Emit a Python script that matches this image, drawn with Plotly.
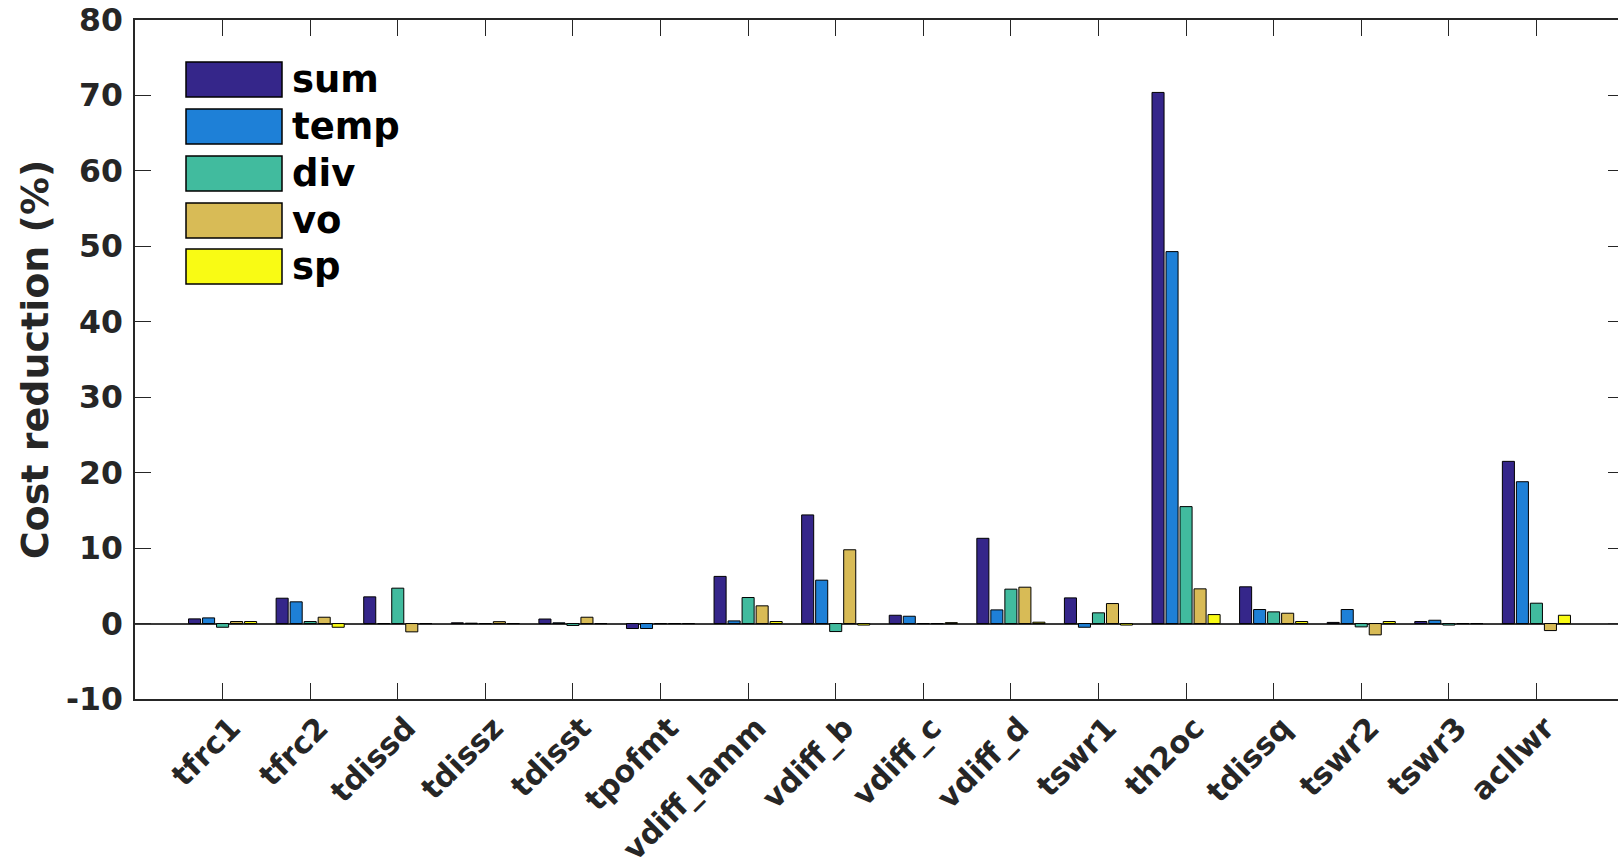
import plotly.graph_objects as go

categories = ["tfrc1", "tfrc2", "tdissd", "tdissz", "tdisst", "tpofmt", "vdiff_lamm",
              "vdiff_b", "vdiff_c", "vdiff_d", "tswr1", "th2oc", "tdissq", "tswr2",
              "tswr3", "acllwr"]
sum_vals = [0.62, 3.36, 3.54, 0.10, 0.60, -0.66, 6.25, 14.4, 1.10, 11.3, 3.40, 70.4, 4.87, 0.15, 0.27, 21.5]
temp_vals = [0.75, 2.88, 0.0, 0.05, 0.10, -0.66, 0.35, 5.75, 0.97, 1.81, -0.49, 49.3, 1.86, 1.86, 0.44, 18.8]
div_vals = [-0.49, 0.27, 4.69, 0.0, -0.25, 0.0, 3.45, -1.06, 0.0, 4.56, 1.42, 15.5, 1.55, -0.44, -0.20, 2.70]
vo_vals = [0.27, 0.84, -1.10, 0.25, 0.84, 0.0, 2.35, 9.78, 0.0, 4.82, 2.65, 4.60, 1.37, -1.50, 0.0, -0.93]
sp_vals = [0.27, -0.49, 0.0, 0.0, 0.0, 0.0, 0.27, -0.20, 0.12, 0.18, -0.20, 1.19, 0.27, 0.27, 0.0, 1.10]

series_names = ["sum", "temp", "div", "vo", "sp"]
series_values = [sum_vals, temp_vals, div_vals, vo_vals, sp_vals]
series_colors = ["#35268a", "#1e80d7", "#41bb9e", "#d8bb56", "#f9fb14"]

y_ticks = [-10, 0, 10, 20, 30, 40, 50, 60, 70, 80]
y_tick_labels = ["-10", "0", "10", "20", "30", "40", "50", "60", "70", "80"]

# The original figure is cropped on the right: the axes box ends just past the image edge.
W, H = 1624, 868
L, T, B, R = 135, 20, 169, 0
PW, PH = W - L - R, H - T - B

AX = "#262626"
FONT = "DejaVu Sans"
TICK_SIZE = 31.5
XTICK_SIZE = 30.5

xpos = list(range(1, len(categories) + 1))

fig = go.Figure()
for name, vals, col in zip(series_names, series_values, series_colors):
    fig.add_trace(go.Bar(x=xpos, y=vals, name=name,
                         marker=dict(color=col, line=dict(color="#000000", width=1))))

fig.update_layout(
    width=W, height=H,
    margin=dict(l=L, r=R, t=T, b=B, autoexpand=False),
    paper_bgcolor="white", plot_bgcolor="white",
    barmode="group", bargap=0.2, bargroupgap=0.14,
    showlegend=False,
    font=dict(family=FONT, color=AX),
    xaxis=dict(
        range=[0, 17], tickmode="array", tickvals=xpos, ticktext=categories,
        tickangle=-45, ticks="inside", ticklen=16, tickcolor=AX, tickwidth=1.2,
        ticklabelshift=9, ticklabelstandoff=-3,
        showline=True, linecolor=AX, linewidth=1.5, mirror="ticks",
        showgrid=False, zeroline=False,
        tickfont=dict(family=FONT, size=XTICK_SIZE, color=AX, weight="bold"),
    ),
    yaxis=dict(
        range=[-10, 80], tickmode="array", tickvals=y_ticks, ticktext=y_tick_labels,
        ticks="inside", ticklen=16, tickcolor=AX, tickwidth=1.2, ticklabelstandoff=4,
        showline=True, linecolor=AX, linewidth=1.5, mirror="ticks",
        showgrid=False, zeroline=True, zerolinecolor="#3a3a3a", zerolinewidth=2,
        tickfont=dict(family=FONT, size=TICK_SIZE, color=AX, weight="bold"),
        title=dict(text="Cost reduction (%)", standoff=6,
                   font=dict(family=FONT, size=38, color=AX, weight="bold")),
    ),
)

# manual legend with large swatches (as in the original figure)
def px_x(px):
    return (px - L) / PW

def px_y(py):
    return (H - B - py) / PH

row_tops = [62, 109, 156, 203, 249]
sw_h = 35
for top, name, col in zip(row_tops, series_names, series_colors):
    fig.add_shape(type="rect", xref="paper", yref="paper",
                  x0=px_x(186), x1=px_x(282), y0=px_y(top + sw_h), y1=px_y(top),
                  fillcolor=col, line=dict(color="#000000", width=1.5))
    fig.add_annotation(xref="paper", yref="paper", x=px_x(290), y=px_y(top + sw_h / 2),
                       text=name, showarrow=False, xanchor="left", yanchor="middle",
                       font=dict(family=FONT, size=37, color="#000000", weight="bold"))

fig.write_html(
    "out.html",
    config={"displayModeBar": False},
    post_script="document.body.style.margin='0px';"
                "document.body.style.overflow='hidden';"
                "document.documentElement.style.overflow='hidden';",
)
